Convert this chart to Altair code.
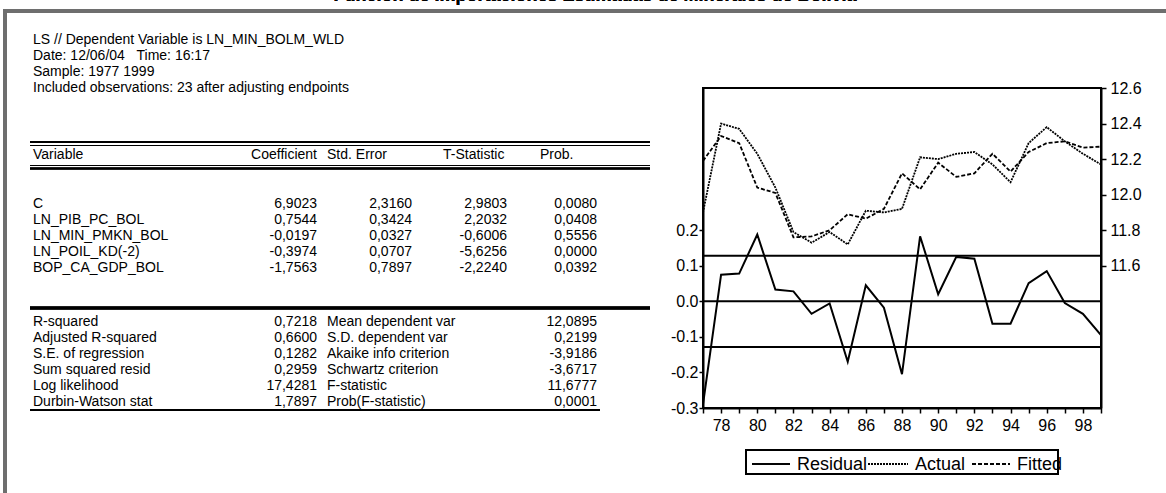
import altair as alt
import pandas as pd

# ---------------- data ----------------
years = list(range(1977, 2000))
residual = [-0.29, 0.075, 0.078, 0.188, 0.033, 0.028, -0.035, -0.006, -0.17, 0.045,
            -0.018, -0.205, 0.183, 0.02, 0.125, 0.12, -0.063, -0.063, 0.051, 0.085,
            -0.005, -0.035, -0.095]
actual = [11.90, 12.40, 12.37, 12.23, 12.04, 11.79, 11.73, 11.79, 11.72, 11.91,
          11.90, 11.92, 12.21, 12.20, 12.23, 12.24, 12.17, 12.07, 12.29, 12.38,
          12.30, 12.23, 12.17]
fitted = [12.19, 12.33, 12.29, 12.04, 12.01, 11.76, 11.765, 11.80, 11.89, 11.865,
          11.92, 12.12, 12.03, 12.18, 12.10, 12.12, 12.23, 12.13, 12.24, 12.29,
          12.30, 12.265, 12.27]
se_regression = 0.1282

title_text = "Función de Importaciones Estimadas de Minerales de Bolivia"
NB3 = "\u00a0\u00a0\u00a0"
header_lines = ["LS // Dependent Variable is LN_MIN_BOLM_WLD",
                "Date: 12/06/04" + NB3 + "Time: 16:17",
                "Sample: 1977 1999",
                "Included observations: 23 after adjusting endpoints"]
col_headers = ["Variable", "Coefficient", "Std. Error", "T-Statistic", "Prob."]
variables = ["C", "LN_PIB_PC_BOL", "LN_MIN_PMKN_BOL", "LN_POIL_KD(-2)", "BOP_CA_GDP_BOL"]
coefs = ["6,9023", "0,7544", "-0,0197", "-0,3974", "-1,7563"]
std_errors = ["2,3160", "0,3424", "0,0327", "0,0707", "0,7897"]
t_stats = ["2,9803", "2,2032", "-0,6006", "-5,6256", "-2,2240"]
probs = ["0,0080", "0,0408", "0,5556", "0,0000", "0,0392"]
stat_names_left = ["R-squared", "Adjusted R-squared", "S.E. of regression",
                   "Sum squared resid", "Log likelihood", "Durbin-Watson stat"]
stat_values_left = ["0,7218", "0,6600", "0,1282", "0,2959", "17,4281", "1,7897"]
stat_names_right = ["Mean dependent var", "S.D. dependent var", "Akaike info criterion",
                    "Schwartz criterion", "F-statistic", "Prob(F-statistic)"]
stat_values_right = ["12,0895", "0,2199", "-3,9186", "-3,6717", "11,6777", "0,0001"]
legend_labels = ["Residual", "Actual", "Fitted"]

# ---------------- layout ----------------
W, H = 1166, 493
PL, PT, PW, PH = 703, 88, 398, 320
FONT = "Liberation Sans"
FS = 14
LH = 16

X_LEFT = 33
X_COEF, X_SE, X_T, X_P = 317, 412, 507, 597
X_SE_H, X_T_H, X_P_H = 327, 443, 540
X_STAT2 = 327
Y_INFO0 = 40
Y_HEAD = 155
Y_ROW0 = 204
Y_STAT0 = 322
LINE_X0, LINE_X1 = 30, 650

left_txt, right_txt, legend_txt = [], [], []


def add(lst, s, ax, ay):
    lst.append({"t": s, "x": ax - PL, "y": ay - PT})


for i, s in enumerate(header_lines):
    add(left_txt, s, X_LEFT, Y_INFO0 + i * LH)
add(left_txt, col_headers[0], X_LEFT, Y_HEAD)
add(right_txt, col_headers[1], X_COEF, Y_HEAD)
add(left_txt, col_headers[2], X_SE_H, Y_HEAD)
add(left_txt, col_headers[3], X_T_H, Y_HEAD)
add(left_txt, col_headers[4], X_P_H, Y_HEAD)
for i in range(len(variables)):
    y = Y_ROW0 + i * LH
    add(left_txt, variables[i], X_LEFT, y)
    add(right_txt, coefs[i], X_COEF, y)
    add(right_txt, std_errors[i], X_SE, y)
    add(right_txt, t_stats[i], X_T, y)
    add(right_txt, probs[i], X_P, y)
for i in range(len(stat_names_left)):
    y = Y_STAT0 + i * LH
    add(left_txt, stat_names_left[i], X_LEFT, y)
    add(right_txt, stat_values_left[i], X_COEF, y)
    add(left_txt, stat_names_right[i], X_STAT2, y)
    add(right_txt, stat_values_right[i], X_P, y)

# legend text
LEG_Y = 465
add(legend_txt, legend_labels[0], 797, LEG_Y)
add(legend_txt, legend_labels[1], 915, LEG_Y)
add(legend_txt, legend_labels[2], 1017, LEG_Y)

df_left = pd.DataFrame(left_txt)
df_right = pd.DataFrame(right_txt)
df_leg = pd.DataFrame(legend_txt)


def text_layer(df, align, size):
    return alt.Chart(df).mark_text(
        align=align, baseline="middle", font=FONT, fontSize=size, color="black"
    ).encode(x=alt.X("x:Q", scale=None, axis=None),
             y=alt.Y("y:Q", scale=None, axis=None), text="t:N")


text_left = text_layer(df_left, "left", FS)
text_right = text_layer(df_right, "right", FS)
text_leg = text_layer(df_leg, "left", 18)

# ---------------- plot ----------------
df_res = pd.DataFrame({"year": years, "residual": residual})
df_af = pd.DataFrame({"year": years + years,
                      "value": actual + fitted,
                      "series": ["Actual"] * len(years) + ["Fitted"] * len(years)})
df_rules = pd.DataFrame({"r": [se_regression, 0.0, -se_regression]})

x_scale = alt.Scale(domain=[1977, 1999], nice=False, zero=False)
res_scale = alt.Scale(domain=[-0.3, 0.6], nice=False, zero=False)
af_scale = alt.Scale(domain=[10.8, 12.6], nice=False, zero=False)

axis_common = dict(title=None, grid=False, domainColor="black", domainWidth=2,
                   tickColor="black", tickWidth=1.5, labelFont=FONT, labelFontSize=16,
                   labelColor="black", labelOverlap=False)

res_line = alt.Chart(df_res).mark_line(color="black", strokeWidth=2).encode(
    x=alt.X("year:Q", scale=x_scale,
            axis=alt.Axis(orient="bottom", values=years, tickSize=5, labelPadding=4,
                          labelExpr="datum.value % 2 == 0 ? substring(toString(datum.value), 2, 4) : ''",
                          **axis_common)),
    y=alt.Y("residual:Q", scale=res_scale,
            axis=alt.Axis(orient="left", values=[-0.3, -0.2, -0.1, 0.0, 0.1, 0.2], tickSize=4,
                          labelPadding=1,
                          labelExpr="replace(format(datum.value, '.1f'), '\u2212', '-')",
                          **axis_common)),
)

af_lines = alt.Chart(df_af).mark_line(color="black", strokeWidth=1.8).encode(
    x=alt.X("year:Q", scale=x_scale, axis=None),
    y=alt.Y("value:Q", scale=af_scale,
            axis=alt.Axis(orient="right", values=[11.6, 11.8, 12.0, 12.2, 12.4, 12.6], tickSize=5,
                          labelPadding=4,
                          labelExpr="replace(format(datum.value, '.1f'), '\u2212', '-')",
                          **axis_common)),
    strokeDash=alt.StrokeDash("series:N", legend=None,
                              scale=alt.Scale(domain=["Actual", "Fitted"], range=[[2, 1], [4, 2]])),
    detail="series:N",
)

hrules = alt.Chart(df_rules).mark_rule(color="black", strokeWidth=2).encode(
    y=alt.Y("r:Q", scale=res_scale, axis=None)
)

# ---------------- decorations ----------------
def hline(ay, x0, x1, w, color="black", dash=None):
    kw = dict(color=color, strokeWidth=w)
    if dash is not None:
        kw["strokeDash"] = dash
    return alt.Chart(df_rules).mark_rule(**kw).encode(
        x=alt.value(x0 - PL), x2=alt.value(x1 - PL), y=alt.value(ay - PT))


def vline(ax, y0, y1, w, color="black"):
    return alt.Chart(df_rules).mark_rule(color=color, strokeWidth=w).encode(
        x=alt.value(ax - PL), y=alt.value(y0 - PT), y2=alt.value(y1 - PT))


decor = [
    hline(11, 3, W, 4, "#6e6e6e"),
    vline(5, 9, H, 4, "#6e6e6e"),
    hline(142, LINE_X0, LINE_X1, 2),
    hline(145.5, LINE_X0, LINE_X1, 1),
    hline(165.5, LINE_X0, LINE_X1, 1),
    hline(168.5, LINE_X0, LINE_X1, 2),
    hline(308, LINE_X0, LINE_X1, 3),
    hline(410, LINE_X0, X_P + 3, 2),
    # legend samples
    hline(464, 752, 790, 1.5),
    hline(464, 868, 908, 1.5, dash=[2, 1]),
    hline(464, 972, 1010, 1.5, dash=[4, 2]),
]

legend_box = alt.Chart(df_rules).mark_rect(fill=None, stroke="black", strokeWidth=2).encode(
    x=alt.value(746 - PL), x2=alt.value(1058 - PL), y=alt.value(450 - PT), y2=alt.value(474 - PT))

title_mark = alt.Chart(df_rules).mark_text(
    align="center", baseline="alphabetic", font=FONT, fontSize=18, fontWeight="bold", color="black"
).encode(x=alt.value(595 - PL), y=alt.value(1 - PT), text=alt.value(title_text))

chart = alt.layer(
    res_line, af_lines, hrules, text_left, text_right, text_leg, legend_box, title_mark, *decor
).resolve_scale(x="independent", y="independent").properties(
    width=PW, height=PH,
    autosize=alt.AutoSizeParams(type="none"),
    padding={"left": PL, "top": PT, "right": W - PL - PW, "bottom": H - PT - PH},
    background="white",
).configure_view(stroke="black", strokeWidth=2)

chart.save("out.html", embed_options={"renderer": "svg", "actions": False})
